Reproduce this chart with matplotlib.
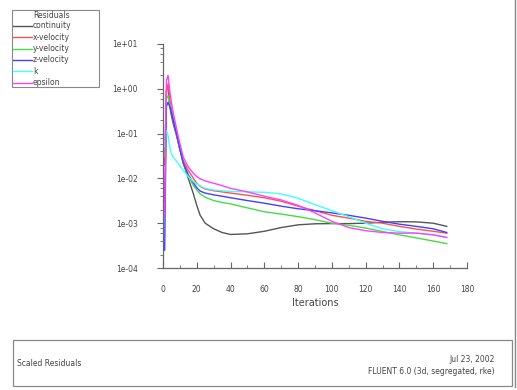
import matplotlib
matplotlib.use("Agg")
import matplotlib.pyplot as plt
from matplotlib.lines import Line2D
from matplotlib.patches import Rectangle
from matplotlib.ticker import LogLocator, MultipleLocator, FixedLocator

# iteration numbers and residual values
iterations = [1, 2, 3, 4, 5, 6, 8, 10, 12, 15, 18, 20, 22, 25, 30, 35, 40,
              50, 60, 70, 80, 90, 100, 110, 120, 130, 140, 150, 160, 168]

continuity = [0.02, 0.95, 1.1, 0.4, 0.25, 0.17, 0.09, 0.045, 0.022, 0.01, 0.0045,
              0.0025, 0.0015, 0.001, 0.00075, 0.00062, 0.00056, 0.00058, 0.00066,
              0.0008, 0.00092, 0.00097, 0.00098, 0.00098, 0.001, 0.00105, 0.00108,
              0.00107, 0.001, 0.00085]
x_velocity = [0.003, 0.8, 1.3, 0.6, 0.35, 0.22, 0.1, 0.045, 0.025, 0.015, 0.01,
              0.0078, 0.0066, 0.0058, 0.0053, 0.005, 0.0047, 0.0042, 0.0037,
              0.0031, 0.0024, 0.0019, 0.0015, 0.0013, 0.0011, 0.001, 0.00085,
              0.00074, 0.00066, 0.0006]
y_velocity = [0.03, 0.6, 0.7, 0.45, 0.3, 0.2, 0.1, 0.045, 0.022, 0.011, 0.007,
              0.0055, 0.0045, 0.0038, 0.0032, 0.0029, 0.0027, 0.0022, 0.0018,
              0.0016, 0.0014, 0.0012, 0.001, 0.0009, 0.00078, 0.00065, 0.00055,
              0.00047, 0.0004, 0.00035]
z_velocity = [0.00025, 0.4, 0.5, 0.4, 0.3, 0.2, 0.1, 0.045, 0.022, 0.012, 0.008,
              0.0062, 0.0052, 0.0047, 0.0043, 0.004, 0.0037, 0.0032, 0.0028,
              0.0024, 0.0021, 0.0019, 0.0017, 0.0015, 0.0013, 0.0011, 0.00095,
              0.00085, 0.00075, 0.00062]
k_resid = [0.05, 0.12, 0.09, 0.05, 0.035, 0.03, 0.024, 0.019, 0.015, 0.011, 0.0085,
           0.0075, 0.0068, 0.006, 0.0055, 0.0053, 0.0051, 0.005, 0.0049, 0.0045,
           0.0036, 0.0026, 0.0019, 0.0014, 0.001, 0.00075, 0.00065, 0.0006,
           0.00055, 0.00048]
epsilon = [0.0015, 1.5, 2.0, 0.9, 0.5, 0.3, 0.13, 0.06, 0.03, 0.018, 0.013, 0.011,
           0.0098, 0.0088, 0.0078, 0.0069, 0.006, 0.005, 0.004, 0.0033, 0.0025,
           0.0017, 0.0011, 0.0008, 0.00068, 0.00062, 0.0006, 0.0006, 0.00055,
           0.00048]

names = ["continuity", "x-velocity", "y-velocity", "z-velocity", "k", "epsilon"]
colors = ["#555555", "#ff5050", "#44dd44", "#4040ff", "#40ffff", "#ff40ff"]
series = [continuity, x_velocity, y_velocity, z_velocity, k_resid, epsilon]

W, H = 517, 390
fig = plt.figure(figsize=(W / 100, H / 100), dpi=100)
fig.patch.set_facecolor("white")

# plot area in pixels: x 163..467, y 44..268
ax = fig.add_axes([163 / W, 1 - 268 / H, 304 / W, 224 / H])
for name, col, vals in zip(names, colors, series):
    ax.plot(iterations, vals, color=col, lw=1.0, label=name)

ax.set_yscale("log")
ax.set_ylim(1e-4, 1e1)
ax.set_xlim(0, 180)
for s in ["top", "right"]:
    ax.spines[s].set_visible(False)
for s in ["left", "bottom"]:
    ax.spines[s].set_color("#666666")
    ax.spines[s].set_linewidth(0.9)

ax.yaxis.set_major_locator(FixedLocator([1e-4, 1e-3, 1e-2, 1e-1, 1e0, 1e1]))
ax.yaxis.set_minor_locator(LogLocator(base=10, subs=[2, 4, 6, 8]))
ax.yaxis.set_major_formatter(plt.FuncFormatter(lambda v, p: "%.0e" % v))
ax.yaxis.set_minor_formatter(plt.NullFormatter())
ax.xaxis.set_major_locator(MultipleLocator(20))
ax.xaxis.set_minor_locator(MultipleLocator(10))
ax.tick_params(axis="y", which="major", direction="out", length=4, color="#666666",
               labelsize=5.5, labelcolor="#444444", pad=14)
ax.tick_params(axis="y", which="minor", direction="out", length=2, color="#666666")
ax.tick_params(axis="x", which="major", direction="in", length=4, color="#666666",
               labelsize=5.5, labelcolor="#444444", pad=12)
ax.tick_params(axis="x", which="minor", direction="in", length=2, color="#666666")
ax.set_xlabel("Iterations", fontsize=7, color="#444444", labelpad=3)

# legend box, top left
fig.add_artist(Rectangle((12 / W, 1 - 87 / H), 87 / W, 77 / H, transform=fig.transFigure,
                         facecolor="white", edgecolor="#888888", lw=0.8))
fig.text(33 / W, 1 - 16 / H, "Residuals", fontsize=5.5, color="#444444", va="center")
for i, (name, col) in enumerate(zip(names, colors)):
    yy = 1 - (26 + i * 11.3) / H
    fig.add_artist(Line2D([13 / W, 32 / W], [yy, yy], transform=fig.transFigure,
                          color=col, lw=1.0))
    fig.text(33 / W, yy, name, fontsize=5.5, color="#444444", va="center")

# footer box
fig.add_artist(Rectangle((13 / W, 1 - 386 / H), 499 / W, 46 / H, transform=fig.transFigure,
                         facecolor="white", edgecolor="#888888", lw=0.9))
fig.text(17 / W, 1 - 363 / H, "Scaled Residuals", fontsize=5.5, color="#444444", va="center")
fig.text(495 / W, 1 - 360 / H, "Jul 23, 2002", fontsize=5.5, color="#444444",
         va="center", ha="right")
fig.text(495 / W, 1 - 371 / H, "FLUENT 6.0 (3d, segregated, rke)", fontsize=5.5,
         color="#444444", va="center", ha="right")

# right edge line of the window
fig.add_artist(Line2D([515 / W, 515 / W], [1 - 387 / H, 1], transform=fig.transFigure,
                      color="#888888", lw=1))

fig.savefig("out.png", dpi=100)
